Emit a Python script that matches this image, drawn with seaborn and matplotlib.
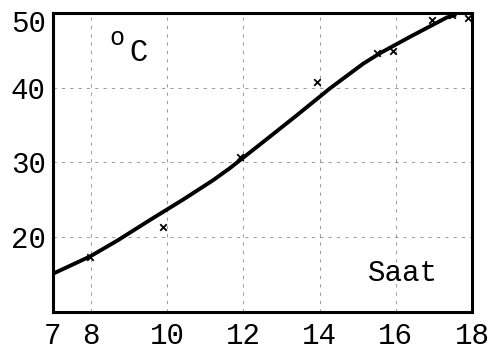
import matplotlib
matplotlib.use("Agg")
import matplotlib.pyplot as plt
import matplotlib.transforms as mtransforms
import seaborn as sns
import pandas as pd

# Smoothed temperature curve over the day
curve_hour = [7.0, 7.97, 8.68, 9.55, 10.41, 11.2, 11.65, 12.51, 13.40, 14.27,
              15.14, 15.58, 16.37, 17.34, 17.55]
curve_temp = [15.1, 17.4, 19.5, 22.3, 25.0, 27.6, 29.25, 32.7, 36.3, 39.9,
              43.2, 44.6, 46.8, 49.4, 49.7]

# Individual readings
obs_hour = [7.97, 9.89, 11.9, 13.93, 15.5, 15.92, 16.95, 17.47, 17.9]
obs_temp = [17.4, 21.4, 30.7, 40.7, 44.6, 44.9, 49.0, 49.7, 49.3]

x_ticks = [7, 8, 10, 12, 14, 16, 18]
y_ticks = [20, 30, 40, 50]

sns.set_theme(style="white")
plt.rcParams["font.family"] = ["Liberation Mono", "DejaVu Sans Mono"]

fig = plt.figure(figsize=(4.99, 3.5), dpi=100)
ax = fig.add_axes([0.106, 0.109, 0.840, 0.854])

curve = pd.DataFrame({"hour": curve_hour, "temp": curve_temp})
obs = pd.DataFrame({"hour": obs_hour, "temp": obs_temp})

sns.lineplot(data=curve, x="hour", y="temp", ax=ax, color="black",
             linewidth=2.8, sort=True)
sns.scatterplot(data=obs, x="hour", y="temp", ax=ax, marker="x",
                color="black", s=22, linewidth=1.3, zorder=3)

ax.set_xlim(7, 18)
ax.set_ylim(10, 50)
ax.set_xticks(x_ticks)
ax.set_yticks(y_ticks)
ax.set_xticklabels([str(v) for v in x_ticks])
ax.set_yticklabels([str(v) for v in y_ticks])
ax.tick_params(axis="both", labelsize=21, length=0, colors="black")
ax.tick_params(axis="x", pad=7)
ax.tick_params(axis="y", pad=5)

# the top label sits a little below its tick
top_label = ax.get_yticklabels()[-1]
top_label.set_transform(top_label.get_transform() +
                        mtransforms.ScaledTranslation(0, -6 / 72, fig.dpi_scale_trans))

ax.grid(True, color="black", linestyle=(0, (4, 6)), linewidth=0.6, alpha=0.45)
for s in ax.spines.values():
    s.set_visible(True)
    s.set_color("black")
    s.set_linewidth(2.2)

ax.set_xlabel("")
ax.set_ylabel("")

ax.text(8.68, 46.6, "o", fontsize=18, color="black", ha="center", va="center")
ax.text(9.25, 44.6, "C", fontsize=22, color="black", ha="center", va="center")
ax.text(16.19, 15.2, "Saat", fontsize=21, color="black", ha="center", va="center")

fig.savefig("out.png", dpi=100, facecolor="white")
